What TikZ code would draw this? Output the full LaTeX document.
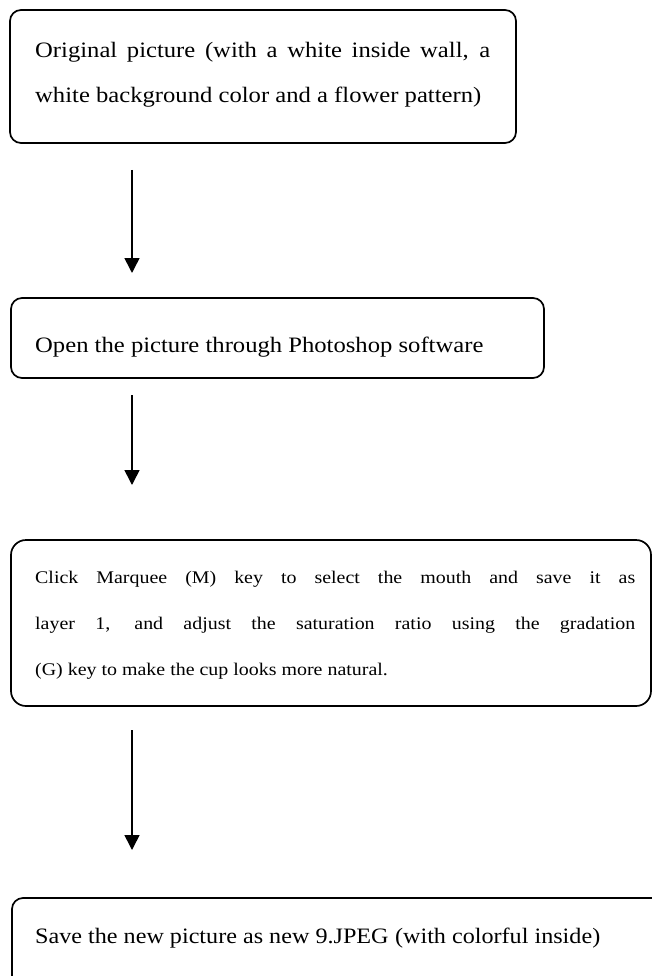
\documentclass[tikz,border=0pt]{standalone}
\usepackage{fontspec}
\setmainfont[FakeStretch=1.12]{Liberation Serif}
\usetikzlibrary{arrows.meta}
\tikzset{
  box/.style={draw=black, line width=1.7pt, rounded corners=11pt, inner sep=0pt},
  bigbox/.style={box, rounded corners=15pt},
  txt/.style={anchor=base west, inner sep=0pt, font=\fontsize{22}{22}\selectfont},
  smalltxt/.style={txt, font=\fontsize{17.8}{18}\selectfont},
  flow/.style={line width=1.6pt, -{Triangle[width=15pt,length=15pt]}}
}
\begin{document}
\begin{tikzpicture}[x=1pt,y=-1pt]
\clip (0,0) rectangle (652,976);
\fill[white] (0,0) rectangle (652,976);
% boxes
\node[box, minimum width=506pt, minimum height=133pt] (b1) at (263,76.5) {};
\node[box, minimum width=533pt, minimum height=80pt] (b2) at (277.5,338) {};
\node[bigbox, minimum width=640pt, minimum height=166pt] (b3) at (331,623) {};
\node[box, minimum width=668pt, minimum height=112pt] (b4) at (346,954) {};
% texts
\node[txt] (t1a) at (35,58) {\makebox[455pt][s]{Original picture (with a white inside wall, a}};
\node[txt] (t1b) at (35,103) {white background color and a flower pattern)};
\node[txt] (t2) at (35,352) {Open the picture through Photoshop software};
\node[smalltxt] (t3a) at (35,583) {\makebox[600pt][s]{Click Marquee (M) key to select the mouth and save it as}};
\node[smalltxt] (t3b) at (35,629) {\makebox[600pt][s]{layer 1, and adjust the saturation ratio using the gradation}};
\node[smalltxt] (t3c) at (35,675) {(G) key to make the cup looks more natural.};
\node[txt] (t4) at (35,943) {\scalebox{0.98}[1]{Save the new picture as new 9.JPEG\hspace{0.3em}(with colorful inside)}};
% arrow ends
\coordinate (a1s) at (132,170);
\coordinate (a1e) at (132,273);
\coordinate (a2s) at (132,395);
\coordinate (a2e) at (132,485);
\coordinate (a3s) at (132,730);
\coordinate (a3e) at (132,850);
\draw[flow] (a1s) -- (a1e);
\draw[flow] (a2s) -- (a2e);
\draw[flow] (a3s) -- (a3e);
\end{tikzpicture}
\end{document}
